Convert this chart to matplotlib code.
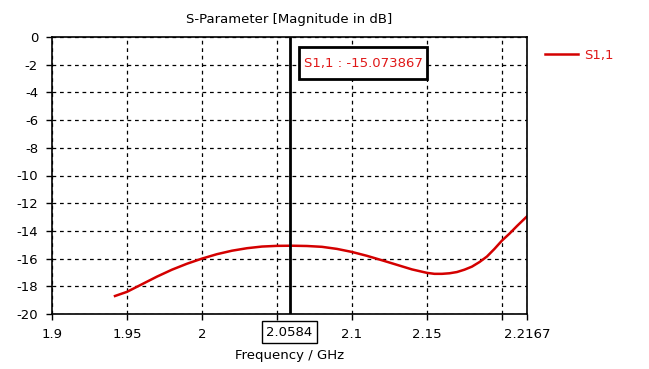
import matplotlib
matplotlib.use("Agg")
from matplotlib import pyplot as plt
from matplotlib.patches import Rectangle

# S1,1 magnitude
freq = [1.942, 1.95, 1.96, 1.97, 1.98, 1.99, 2.00, 2.01, 2.02, 2.03, 2.04, 2.05,
        2.06, 2.07, 2.08, 2.09, 2.10, 2.11, 2.12, 2.13, 2.14, 2.15, 2.155, 2.16,
        2.165, 2.17, 2.175, 2.18, 2.185, 2.19, 2.195, 2.20, 2.205, 2.21, 2.2167]
s11 = [-18.7, -18.4, -17.85, -17.3, -16.8, -16.37, -16.0, -15.68, -15.43, -15.25, -15.13, -15.08,
       -15.07, -15.09, -15.15, -15.3, -15.52, -15.8, -16.12, -16.45, -16.78, -17.03, -17.1, -17.1,
       -17.06, -16.97, -16.8, -16.58, -16.25, -15.85, -15.3, -14.7, -14.2, -13.65, -12.95]

xticks = [1.9, 1.95, 2.0, 2.05, 2.1, 2.15, 2.2, 2.2167]
xticklabels = ["1.9", "1.95", "2", "", "2.1", "2.15", "", "2.2167"]
yticks = [0, -2, -4, -6, -8, -10, -12, -14, -16, -18, -20]
marker_f = 2.0584
marker_val = -15.073867

red = "#d40000"
txt_red = "#e01818"

fig = plt.figure(figsize=(6.49, 3.69), dpi=100)
ax = fig.add_axes([52/649, 1-314/369, (527-52)/649, (314-37)/369])

ax.plot(freq, s11, color=red, lw=1.8, label="S1,1")
ax.axvline(marker_f, color="black", lw=2)

ax.set_xlim(1.9, 2.2167)
ax.set_ylim(-20, 0)
ax.set_xticks(xticks)
ax.set_xticklabels(xticklabels)
ax.set_yticks(yticks)
ax.set_yticklabels([str(v) for v in yticks])
ax.tick_params(labelsize=9.5, length=4, width=1, direction="out", pad=6)
ax.grid(True, color="black", ls=(0, (3, 3)), lw=0.9)
for s in ax.spines.values():
    s.set_linewidth(1.2)

ax.set_title("S-Parameter [Magnitude in dB]", fontsize=9.5, pad=10)
ax.set_xlabel("Frequency / GHz", fontsize=9.5, labelpad=6)

# marker readout box
ax.add_patch(Rectangle((0.52, 0.848), 0.269, 0.116, transform=ax.transAxes,
                       fc="white", ec="black", lw=2, zorder=5))
ax.text(0.531, 0.906, "S1,1 : %.6f" % marker_val, transform=ax.transAxes,
        color=txt_red, fontsize=9.5, ha="left", va="center", zorder=6)

# marker frequency box on the x axis
ax.text(marker_f, -21.3, "2.0584", color="black", fontsize=9.5, ha="center", va="center",
        clip_on=False,
        bbox=dict(boxstyle="square,pad=0.35", fc="white", ec="black", lw=1))

ax.legend(loc="upper left", bbox_to_anchor=(1.012, 1.0), frameon=False, fontsize=9.5,
          handlelength=2.5, handletextpad=0.5, labelcolor=txt_red)

fig.savefig("out.png", dpi=100)
